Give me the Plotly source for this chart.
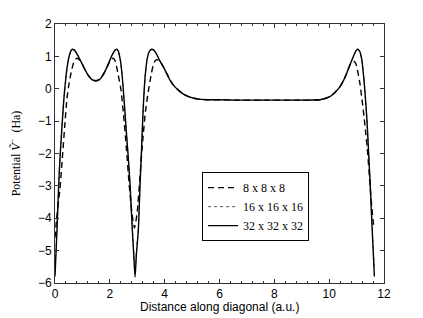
import plotly.graph_objects as go

# 32 x 32 x 32 (solid)
x32 = [0, 0.04, 0.08, 0.12, 0.16, 0.2, 0.26, 0.32, 0.38, 0.44,
       0.5, 0.56, 0.6, 0.645, 0.7, 0.8, 0.9, 1.0, 1.1, 1.2,
       1.3, 1.4, 1.5, 1.6, 1.7, 1.8, 1.9, 2.0, 2.1, 2.2,
       2.25, 2.3, 2.38, 2.45, 2.52, 2.6, 2.67, 2.74, 2.82, 2.87,
       2.92, 2.97, 3.04, 3.1, 3.16, 3.22, 3.3, 3.38, 3.45, 3.53,
       3.6, 3.7, 3.8, 3.95, 4.1, 4.19, 4.35, 4.56, 4.75, 4.92,
       5.23, 5.6, 6.0, 6.5, 7.0, 7.5, 8.0, 8.5, 9.0, 9.3,
       9.66, 9.85, 10.03, 10.2, 10.39, 10.52, 10.64, 10.76, 10.88, 10.96,
       11.03, 11.1, 11.18, 11.25, 11.3, 11.34, 11.38, 11.44, 11.5, 11.55,
       11.6, 11.65]
y32 = [-5.8, -5.0, -4.2, -3.3, -2.5, -1.9, -1.1, -0.35, 0.2, 0.65,
       0.95, 1.13, 1.2, 1.22, 1.2, 1.08, 0.92, 0.75, 0.58, 0.43,
       0.32, 0.26, 0.24, 0.27, 0.36, 0.5, 0.68, 0.88, 1.07, 1.2,
       1.22, 1.18, 0.9, 0.4, -0.35, -1.3, -2.1, -3.0, -4.36, -5.1,
       -5.82, -5.1, -4.36, -3.0, -1.8, -0.55, 0.5, 1.0, 1.17, 1.22,
       1.2, 1.08, 0.9, 0.68, 0.43, 0.27, 0.08, -0.09, -0.2, -0.26,
       -0.32, -0.34, -0.34, -0.35, -0.35, -0.35, -0.35, -0.35, -0.35, -0.35,
       -0.34, -0.3, -0.24, -0.12, 0.06, 0.25, 0.48, 0.74, 0.99, 1.15,
       1.22, 1.18, 0.95, 0.45, -0.04, -0.5, -1.0, -2.0, -3.0, -4.0,
       -4.9, -5.8]

# 16 x 16 x 16 (dotted), same sample positions as x32
y16 = [-5.6, -4.9, -4.15, -3.3, -2.5, -1.9, -1.1, -0.35, 0.2, 0.64,
       0.94, 1.12, 1.19, 1.21, 1.19, 1.08, 0.92, 0.75, 0.58, 0.43,
       0.32, 0.26, 0.24, 0.27, 0.36, 0.5, 0.68, 0.88, 1.06, 1.19,
       1.21, 1.17, 0.9, 0.4, -0.35, -1.3, -2.1, -3.0, -4.3, -5.0,
       -5.65, -5.0, -4.3, -3.0, -1.8, -0.55, 0.5, 0.99, 1.16, 1.21,
       1.19, 1.08, 0.9, 0.68, 0.43, 0.27, 0.08, -0.09, -0.2, -0.26,
       -0.32, -0.34, -0.34, -0.35, -0.35, -0.35, -0.35, -0.35, -0.35, -0.35,
       -0.34, -0.3, -0.24, -0.12, 0.06, 0.25, 0.48, 0.74, 0.99, 1.14,
       1.21, 1.17, 0.95, 0.45, -0.04, -0.5, -1.0, -2.0, -3.0, -3.95,
       -4.8, -5.6]

# 8 x 8 x 8 (dashed)
x8 = [0, 0.06, 0.18, 0.28, 0.36, 0.43, 0.5, 0.6, 0.7, 0.79,
      0.88, 1.0, 1.1, 1.2, 1.3, 1.4, 1.5, 1.6, 1.7, 1.8,
      1.9, 2.0, 2.08, 2.13, 2.2, 2.3, 2.4, 2.5, 2.6, 2.7,
      2.8, 2.9, 3.0, 3.1, 3.2, 3.3, 3.4, 3.5, 3.58, 3.65,
      3.71, 3.8, 3.95, 4.1, 4.19, 4.35, 4.56, 4.75, 4.92, 5.23,
      5.6, 6.0, 6.5, 7.0, 7.5, 8.0, 8.5, 9.0, 9.3, 9.66,
      9.85, 10.03, 10.2, 10.39, 10.52, 10.64, 10.75, 10.82, 10.9, 10.97,
      11.05, 11.12, 11.2, 11.27, 11.33, 11.39, 11.45, 11.5, 11.56, 11.62]
y8 = [-4.6, -4.0, -3.1, -2.0, -1.1, -0.35, 0.1, 0.55, 0.85, 0.94,
      0.9, 0.75, 0.58, 0.43, 0.33, 0.27, 0.25, 0.28, 0.37, 0.5,
      0.67, 0.84, 0.93, 0.94, 0.85, 0.45, 0.0, -0.8, -1.8, -2.9,
      -3.8, -4.3, -3.8, -2.7, -1.6, -0.7, -0.1, 0.4, 0.72, 0.86,
      0.9, 0.87, 0.68, 0.43, 0.27, 0.08, -0.09, -0.2, -0.26, -0.32,
      -0.34, -0.34, -0.35, -0.35, -0.35, -0.35, -0.35, -0.35, -0.35, -0.34,
      -0.3, -0.24, -0.12, 0.06, 0.25, 0.48, 0.72, 0.82, 0.85, 0.78,
      0.5, 0.17, -0.35, -0.85, -1.35, -1.85, -2.5, -3.1, -3.7, -4.2]

names = ["8 x 8 x 8", "16 x 16 x 16", "32 x 32 x 32"]
x_ticks = [0, 2, 4, 6, 8, 10, 12]
y_ticks = [-6, -5, -4, -3, -2, -1, 0, 1, 2]
x_title = "Distance along diagonal (a.u.)"
y_title = "Potential <i>\u1E7C</i><sup>\u2212</sup>  (Ha)"

fig = go.Figure()
fig.add_trace(go.Scatter(x=x8, y=y8, mode="lines", name=names[0],
                         line=dict(color="black", width=1.4, dash="6px,4px",
                                   shape="spline", smoothing=0.6)))
fig.add_trace(go.Scatter(x=x32, y=y16, mode="lines", name=names[1],
                         line=dict(color="#555", width=1, dash="dot",
                                   shape="spline", smoothing=0.6)))
fig.add_trace(go.Scatter(x=x32, y=y32, mode="lines", name=names[2],
                         line=dict(color="black", width=1.4,
                                   shape="spline", smoothing=0.6)))

axis_common = dict(showline=True, linecolor="#333", linewidth=1, mirror="allticks",
                   ticks="inside", ticklen=4, tickcolor="#333", showgrid=False,
                   zeroline=False, automargin=False,
                   tickfont=dict(family="Liberation Sans", size=12, color="black"))

# the page body has an 8px default margin; the figure is offset by it
fig.update_layout(
    width=415, height=310,
    margin=dict(l=47, r=39, t=16, b=35),
    paper_bgcolor="white", plot_bgcolor="white",
    xaxis=dict(range=[0, 12], tickvals=x_ticks, ticktext=[str(v) for v in x_ticks],
               minor=dict(dtick=0.4, tick0=0, ticks="inside", ticklen=2, tickcolor="#333"),
               **axis_common),
    yaxis=dict(range=[-6, 2], tickvals=y_ticks,
               ticktext=["\u2212" + str(-v) if v < 0 else str(v) for v in y_ticks],
               title=dict(text=y_title,
                          font=dict(family="Liberation Serif", size=12, color="black"),
                          standoff=20),
               **axis_common),
    legend=dict(x=0.447, y=0.428, xanchor="left", yanchor="top",
                bordercolor="black", borderwidth=1, bgcolor="white",
                font=dict(family="Liberation Serif", size=12, color="black"),
                itemwidth=30, tracegroupgap=0),
    showlegend=True,
)
fig.add_annotation(text=x_title, xref="paper", yref="paper", x=0.5, y=0,
                   xanchor="center", yanchor="top", yshift=-15, showarrow=False,
                   font=dict(family="Liberation Sans", size=12, color="black"))

fig.write_html("out.html")
